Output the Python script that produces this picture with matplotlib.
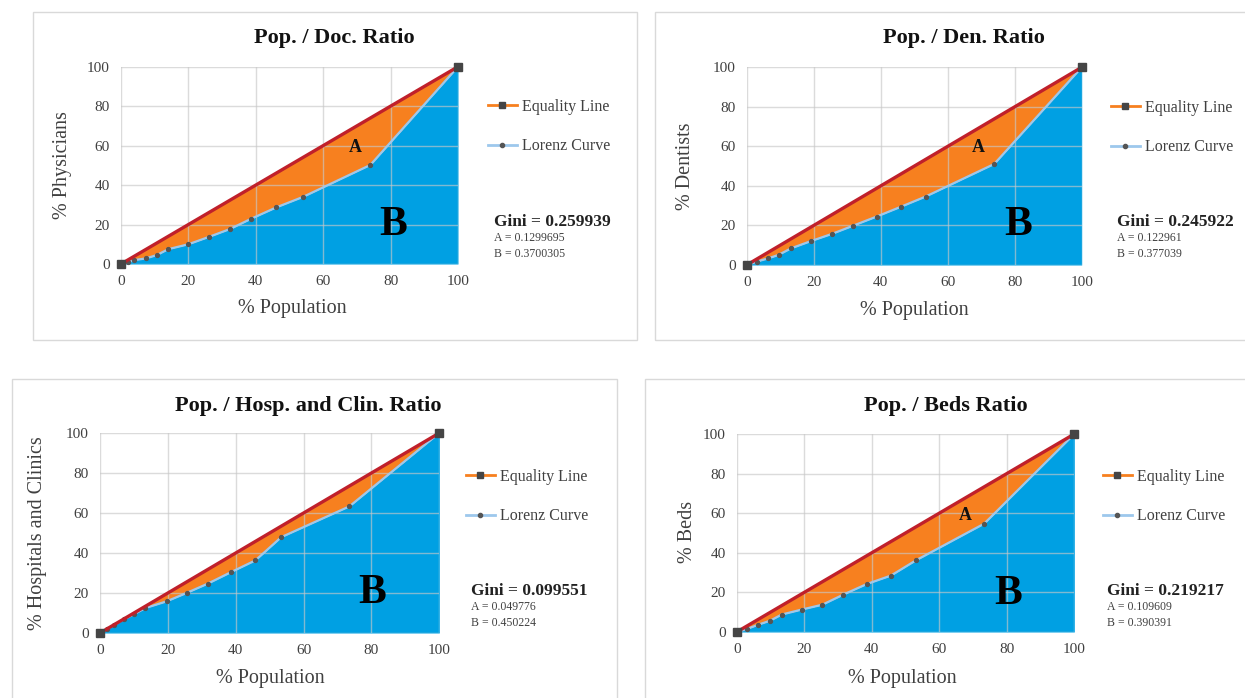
import numpy as np
import matplotlib
matplotlib.use("Agg")
import matplotlib.pyplot as plt
from matplotlib.lines import Line2D
from matplotlib.patches import Rectangle

# ---------------- data ----------------
titles = ["Pop. / Doc. Ratio", "Pop. / Den. Ratio",
          "Pop. / Hosp. and Clin. Ratio", "Pop. / Beds Ratio"]
ylabels = ["% Physicians", "% Dentists", "% Hospitals and Clinics", "% Beds"]
xlabel = "% Population"
gini_vals = ["0.259939", "0.245922", "0.099551", "0.219217"]
a_vals = ["0.1299695", "0.122961", "0.049776", "0.109609"]
b_vals = ["0.3700305", "0.377039", "0.450224", "0.390391"]
show_a_label = [True, True, False, True]
legend_labels = ["Equality Line", "Lorenz Curve"]
ticks = [0, 20, 40, 60, 80, 100]

equality_x = [0, 100]
equality_y = [0, 100]

doc_x = [0, 2, 4, 7.3, 10.6, 14, 20, 26.2, 32.3, 38.7, 46.1, 54, 74, 100]
doc_y = [0, 0.8, 2.0, 2.8, 4.5, 7.5, 10, 13.8, 17.7, 23, 28.7, 34, 50.2, 100]

den_x = [0, 3, 6.5, 9.5, 13.2, 19.2, 25.4, 31.8, 38.8, 46.1, 53.4, 73.9, 100]
den_y = [0, 1.7, 3.4, 5.1, 8.4, 12.1, 15.7, 19.9, 24.5, 29.5, 34.6, 51.1, 100]

hosp_x = [0, 2, 4.2, 7, 10, 13.4, 19.6, 25.5, 31.8, 38.7, 45.8, 53.4, 73.5, 100]
hosp_y = [0, 1.9, 4.1, 6.8, 9.4, 12.5, 15.8, 20, 24.7, 30.5, 36.3, 47.9, 63.3, 100]

beds_x = [0, 3, 6.4, 9.9, 13.3, 19.2, 25.4, 31.6, 38.5, 45.7, 53.1, 73.3, 100]
beds_y = [0, 1.5, 3.7, 5.7, 8.8, 11.3, 13.8, 18.9, 24.2, 28.5, 36.2, 54.7, 100]

lorenz = [(doc_x, doc_y), (den_x, den_y), (hosp_x, hosp_y), (beds_x, beds_y)]

# ---------------- style ----------------
W, H = 1245, 698
BLUE = "#00A0E3"
ORANGE = "#F7801F"
RED = "#C0202A"
LBLUE = "#9DC8EC"
DARK = "#454545"
GRID = "#c8c8c8"
plt.rcParams["font.family"] = ["Liberation Serif", "DejaVu Serif"]

fig = plt.figure(figsize=(W / 100, H / 100), dpi=100)

def fx(x):
    return x / W

def fy(y):
    return 1 - y / H

# layout in pixel coordinates (left, top, right, bottom) of plot area
plot_boxes = [(121, 66.7, 458, 264), (746.7, 67.3, 1081.7, 265),
              (100, 433, 439.3, 633), (736.7, 434, 1074.3, 632)]
chart_boxes = [(33, 12, 637, 340), (655, 12, 1250, 340),
               (12, 379, 617, 705), (645, 379, 1250, 705)]
title_pos = [(334, 38), (964, 38), (308, 406), (946, 406)]
xlabel_pos = [(292, 309), (914, 310), (270, 678), (902, 678)]
ylabel_pos = [(63, 165), (686, 166), (38, 533), (688, 532)]
legend_pos = [(488, 110), (1111, 111), (466, 480), (1103, 480)]
gini_pos = [(494, 222), (1117, 222), (471, 591), (1107, 591)]
a_text_pos = [(69.4, 59.3), (69, 59.2), None, (67.8, 58.6)]
b_text_pos = [(80.7, 19.8), (81, 20.2), (80.2, 20), (80.3, 19.2)]

for i in range(4):
    cl, ct, cr, cb = chart_boxes[i]
    fig.patches.append(Rectangle((fx(cl), fy(cb)), fx(cr - cl), (cb - ct) / H,
                                 transform=fig.transFigure, fill=False,
                                 edgecolor="#d9d9d9", linewidth=1.0, zorder=0))
    l, t, r, b = plot_boxes[i]
    ax = fig.add_axes([fx(l), fy(b), fx(r - l), (b - t) / H])
    lx, ly = lorenz[i]
    lx = np.array(lx, dtype=float)
    ly = np.array(ly, dtype=float)
    eq_at = np.interp(lx, equality_x, equality_y)
    ax.fill_between(lx, 0, ly, color=BLUE, linewidth=0, zorder=1)
    ax.fill_between(lx, ly, eq_at, color=ORANGE, linewidth=0, zorder=1)
    ax.set_xlim(0, 100)
    ax.set_ylim(0, 100)
    ax.set_xticks(ticks)
    ax.set_yticks(ticks)
    ax.set_axisbelow(False)
    ax.grid(True, color=GRID, linewidth=1.0, alpha=0.65)
    for s in ax.spines.values():
        s.set_visible(False)
    ax.tick_params(length=0, labelsize=11, pad=8, labelcolor="#404040")
    ax.plot(lx, ly, color=LBLUE, linewidth=1.6, marker="o", markersize=2.8,
            markerfacecolor="#555555", markeredgecolor="#555555", zorder=3, clip_on=False)
    ax.plot(equality_x, equality_y, color=RED, linewidth=2.4, marker="s",
            markersize=6, markerfacecolor=DARK, markeredgecolor=DARK, zorder=4, clip_on=False)
    if show_a_label[i]:
        ax.text(*a_text_pos[i], "A", fontsize=13, fontweight="bold", ha="center",
                va="center", color="#111111", zorder=5)
    ax.text(*b_text_pos[i], "B", fontsize=30, fontweight="bold", ha="center",
            va="center", color="#000000", zorder=5)

    fig.text(fx(title_pos[i][0]), fy(title_pos[i][1]), titles[i], fontsize=16,
             fontweight="bold", ha="center", va="center", color="#111111")
    fig.text(fx(xlabel_pos[i][0]), fy(xlabel_pos[i][1]), xlabel, fontsize=14.5,
             ha="center", va="center", color="#404040")
    fig.text(fx(ylabel_pos[i][0]), fy(ylabel_pos[i][1]), ylabels[i], fontsize=14.5,
             ha="center", va="center", rotation=90, color="#404040")

    handles = [Line2D([], [], color=ORANGE, linewidth=2, marker="s", markersize=5,
                      markerfacecolor=DARK, markeredgecolor=DARK),
               Line2D([], [], color=LBLUE, linewidth=2, marker="o", markersize=3,
                      markerfacecolor="#555555", markeredgecolor="#555555")]
    lgx, lgy = legend_pos[i]
    fig.legend(handles, legend_labels, loc="upper left",
               bbox_to_anchor=(fx(lgx), fy(lgy - 11)), frameon=False,
               fontsize=11.5, labelspacing=1.45, handlelength=1.8, handletextpad=0.3,
               borderaxespad=0, borderpad=0, labelcolor="#404040")

    gx, gy = gini_pos[i]
    fig.text(fx(gx), fy(gy), "Gini = " + gini_vals[i], fontsize=12.5,
             fontweight="bold", ha="left", va="center", color="#222222")
    fig.text(fx(gx), fy(gy + 16), "A = " + a_vals[i], fontsize=8.5,
             ha="left", va="center", color="#404040")
    fig.text(fx(gx), fy(gy + 32), "B = " + b_vals[i], fontsize=8.5,
             ha="left", va="center", color="#404040")

fig.savefig("out.png", dpi=100, facecolor="white")
